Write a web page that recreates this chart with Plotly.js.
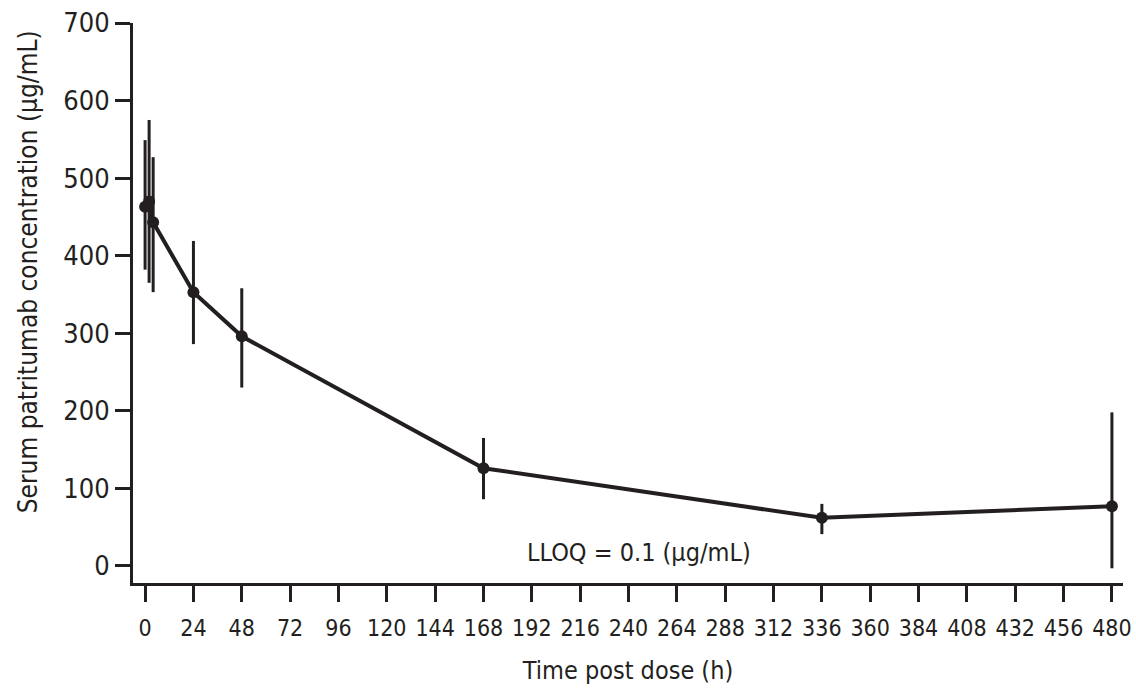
<!DOCTYPE html>
<html>
<head>
<meta charset="utf-8">
<script src="https://cdn.plot.ly/plotly-3.0.1.min.js"></script>
<style>html,body{margin:0;padding:0;background:#fff;}#chart{width:1136px;height:688px;}</style>
</head>
<body>
<div id="chart"></div>
<script>
const timeHours = [0, 2, 4, 24, 48, 168, 336, 480];
const meanConc = [463, 470, 443, 353, 296, 126, 62, 77];
const errPlus = [86, 105, 84, 66, 62, 39, 18, 121];
const errMinus = [81, 105, 90, 67, 66, 40, 21, 80];
const xTickVals = [0,24,48,72,96,120,144,168,192,216,240,264,288,312,336,360,384,408,432,456,480];
const yTickVals = [0,100,200,300,400,500,600,700];

const ink = '#231f20';
const fontFam = '"DejaVu Sans Condensed", "Liberation Sans", Arial, sans-serif';

const trace = {
  x: timeHours,
  y: meanConc,
  type: 'scatter',
  mode: 'lines+markers',
  line: {color: ink, width: 4},
  marker: {color: ink, size: 12},
  error_y: {type: 'data', symmetric: false, array: errPlus, arrayminus: errMinus,
            color: ink, thickness: 3, width: 0},
  hoverinfo: 'x+y'
};

const layout = {
  width: 1136, height: 688,
  margin: {l: 133, r: 13, t: 23, b: 105},
  paper_bgcolor: '#fff', plot_bgcolor: '#fff',
  showlegend: false,
  font: {family: fontFam, color: ink, size: 24},
  xaxis: {
    range: [-6, 485.5],
    tickvals: xTickVals,
    ticktext: xTickVals.map(String),
    tickangle: 0,
    ticklabelstandoff: 6,
    ticks: 'outside', ticklen: 16, tickwidth: 3, tickcolor: ink,
    showline: true, linewidth: 3, linecolor: ink,
    showgrid: false, zeroline: false,
    tickfont: {family: fontFam, size: 23, color: ink},
    title: {text: 'Time post dose (h)', font: {family: fontFam, size: 25, color: ink}, standoff: 22}
  },
  yaxis: {
    range: [-22, 700],
    tickvals: yTickVals,
    ticks: 'outside', ticklen: 15, tickwidth: 3, tickcolor: ink,
    showline: true, linewidth: 3, linecolor: ink,
    showgrid: false, zeroline: false,
    tickfont: {family: fontFam, size: 27, color: ink}
  },
  annotations: [{
    x: 245, y: 17, xref: 'x', yref: 'y', xanchor: 'center', yanchor: 'middle',
    text: 'LLOQ = 0.1 (µg/mL)', showarrow: false,
    font: {family: fontFam, size: 25, color: ink}
  }, {
    x: -0.106, y: 0.555, xref: 'paper', yref: 'paper', xanchor: 'center', yanchor: 'middle',
    text: 'Serum patritumab concentration (µg/mL)', textangle: -90, showarrow: false,
    font: {family: fontFam, size: 26, color: ink}
  }]
};

Plotly.newPlot('chart', [trace], layout, {displayModeBar: false, staticPlot: true});
</script>
</body>
</html>
